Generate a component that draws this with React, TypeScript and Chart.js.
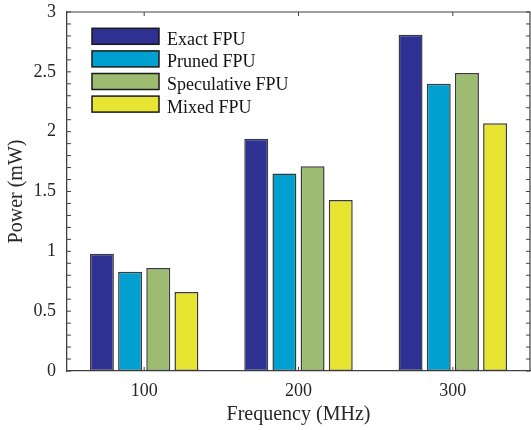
import React, { useEffect, useRef } from "react";
import { Chart, registerables } from "chart.js";

Chart.register(...registerables);

const categories = ["100", "200", "300"];
const seriesNames = ["Exact FPU", "Pruned FPU", "Speculative FPU", "Mixed FPU"];
const exactFPU = [0.98, 1.94, 2.81];
const prunedFPU = [0.83, 1.65, 2.4];
const speculativeFPU = [0.86, 1.71, 2.49];
const mixedFPU = [0.66, 1.43, 2.07];
const seriesColors = ["#2E3192", "#00A1D0", "#9DBC72", "#E8E532"];
const yMajorTicks = [0, 0.5, 1, 1.5, 2, 2.5, 3];

const FONT = "'Liberation Serif', 'Times New Roman', serif";
const AXIS_COLOR = "#404040";
const TEXT_COLOR = "#262626";

const frame = {
  id: "frame",
  afterDatasetsDraw(chart: any) {
    const { ctx, chartArea } = chart;
    const { left, right, top, bottom } = chartArea;
    const y = chart.scales.y;
    const x = chart.scales.x;
    ctx.save();
    ctx.strokeStyle = AXIS_COLOR;
    ctx.lineWidth = 1.2;
    ctx.beginPath();
    ctx.moveTo(left, top);
    ctx.lineTo(right, top);
    ctx.lineTo(right, bottom);
    ctx.stroke();
    ctx.lineWidth = 1;
    ctx.beginPath();
    y.ticks.forEach((t: any) => {
      const p = y.getPixelForValue(t.value);
      ctx.moveTo(left, p);
      ctx.lineTo(left + 4, p);
      ctx.moveTo(right, p);
      ctx.lineTo(right - 4, p);
    });
    categories.forEach((_c, i) => {
      const p = x.getPixelForValue(i);
      ctx.moveTo(p, bottom);
      ctx.lineTo(p, bottom - 4);
      ctx.moveTo(p, top);
      ctx.lineTo(p, top + 4);
    });
    ctx.stroke();

    // legend
    const lx = left + 25;
    const ly = top + 16.3;
    const pitch = 22.6;
    ctx.font = `18px ${FONT}`;
    ctx.textBaseline = "alphabetic";
    ctx.textAlign = "left";
    chart.data.datasets.forEach((ds: any, i: number) => {
      const by = ly + i * pitch;
      ctx.fillStyle = ds.backgroundColor;
      ctx.fillRect(lx, by, 67, 16);
      ctx.strokeStyle = "#1a1a1a";
      ctx.lineWidth = 1.5;
      ctx.strokeRect(lx, by, 67, 16);
      ctx.fillStyle = "#111";
      ctx.fillText(ds.label, lx + 75, by + 16.5);
    });
    ctx.restore();
  },
};

export default function App() {
  const ref = useRef<HTMLCanvasElement>(null);
  useEffect(() => {
    document.body.style.margin = "0";
    const values = [exactFPU, prunedFPU, speculativeFPU, mixedFPU];
    const chart = new Chart(ref.current!, {
      type: "bar",
      data: {
        labels: categories,
        datasets: seriesNames.map((name, i) => ({
          label: name,
          data: values[i],
          backgroundColor: seriesColors[i],
          borderColor: "#3a3a3a",
          borderWidth: 1.5,
          borderSkipped: false,
          categoryPercentage: 0.73,
          barPercentage: 0.85,
        })),
      },
      options: {
        responsive: false,
        animation: false,
        devicePixelRatio: 1,
        layout: { padding: { top: 0, right: 1, bottom: 0, left: 0 } },
        font: { family: FONT },
        plugins: {
          legend: { display: false },
          tooltip: { enabled: false },
        },
        scales: {
          x: {
            type: "category",
            offset: true,
            grid: { display: false, drawTicks: false },
            border: { display: true, color: AXIS_COLOR, width: 1.3 },
            ticks: {
              color: TEXT_COLOR,
              font: { family: FONT, size: 18 },
              padding: 9,
            },
            title: {
              display: true,
              text: "Frequency (MHz)",
              color: TEXT_COLOR,
              font: { family: FONT, size: 20 },
              padding: { top: 0, bottom: 3 },
            },
            afterFit(scale: any) {
              scale.height = 59;
            },
          },
          y: {
            min: 0,
            max: 3,
            grid: { display: false, drawTicks: false },
            border: { display: true, color: AXIS_COLOR, width: 1.3 },
            ticks: {
              stepSize: 0.1,
              autoSkip: false,
              color: TEXT_COLOR,
              font: { family: FONT, size: 18 },
              padding: 11,
              callback(value: any) {
                const v = Number(value);
                const m = yMajorTicks.find((t) => Math.abs(t - v) < 1e-6);
                return m === undefined ? "" : String(m);
              },
            },
            title: {
              display: true,
              text: "Power (mW)",
              color: TEXT_COLOR,
              font: { family: FONT, size: 20 },
              padding: { top: 5, bottom: 0 },
            },
            afterFit(scale: any) {
              scale.width = 67;
              scale.paddingTop = 12;
              scale.paddingBottom = 0;
            },
          },
        },
      },
      plugins: [frame],
    });
    return () => chart.destroy();
  }, []);
  return (
    <div style={{ position: "absolute", left: 0, top: 0, width: 531, height: 430, background: "#fff" }}>
      <canvas ref={ref} width={531} height={430} />
    </div>
  );
}
